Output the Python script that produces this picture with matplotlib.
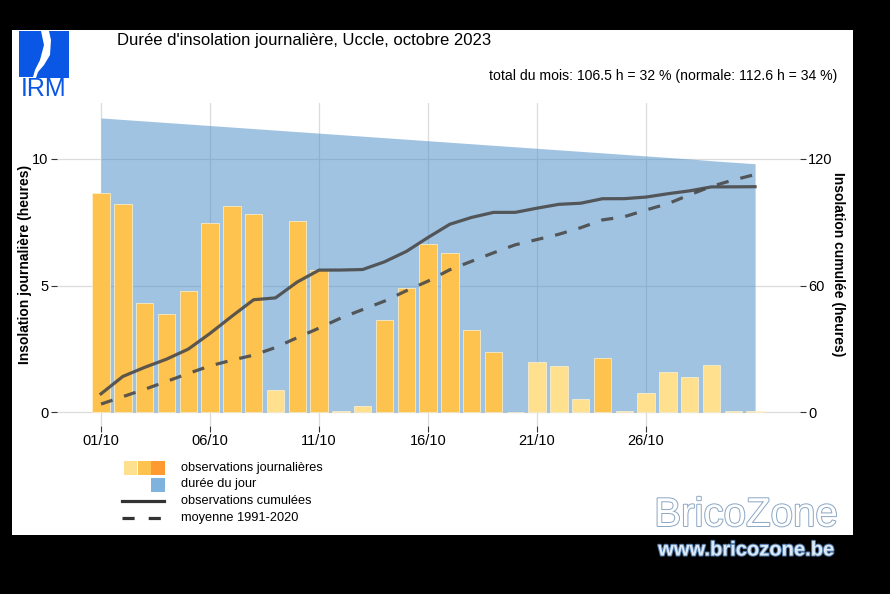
import matplotlib.pyplot as plt
import matplotlib.patheffects as pe
import numpy as np
from matplotlib.lines import Line2D
from matplotlib.patches import Polygon, Rectangle

plt.rcParams["font.family"] = ["Liberation Sans", "DejaVu Sans"]

# --- données ---
days = np.arange(1, 32)
sunshine = [8.67, 8.23, 4.30, 3.87, 4.77, 7.46, 8.13, 7.83, 0.87, 7.54,
            5.63, 0.03, 0.25, 3.65, 4.91, 6.64, 6.27, 3.24, 2.37, 0.02,
            1.99, 1.81, 0.53, 2.13, 0.03, 0.76, 1.58, 1.37, 1.87, 0.03, 0.06]
day_length = [11.62, 11.56, 11.50, 11.44, 11.38, 11.32, 11.26, 11.20, 11.14, 11.08,
              11.02, 10.96, 10.90, 10.84, 10.78, 10.72, 10.66, 10.60, 10.54, 10.48,
              10.42, 10.36, 10.30, 10.24, 10.18, 10.12, 10.06, 10.00, 9.93, 9.87, 9.81]
normal_cum = [3.8, 7.3, 10.8, 14.5, 18.3, 21.9, 24.6, 27.0, 30.6, 35.3,
              39.8, 44.6, 48.6, 52.6, 57.5, 62.1, 67.5, 71.5, 75.5, 79.3,
              81.8, 84.3, 87.4, 91.1, 92.6, 95.8, 98.8, 103.0, 107.0, 110.0, 112.6]
tick_days = [1, 6, 11, 16, 21, 26]
tick_labels = ["01/10", "06/10", "11/10", "16/10", "21/10", "26/10"]
total_month = 106.5
total_normal = 112.6

PALE, MID, DARK = "#fee08f", "#fec24f", "#fe9a30"
BLUE = "#4389c7"
LINE = "#4a4a4a"

W, H = 890, 594


def fx(x):
    return x / W


def fy(y):
    return 1 - y / H


fig = plt.figure(figsize=(W / 100, H / 100), dpi=100, facecolor="black")
fig.add_artist(Rectangle((fx(12), fy(535)), fx(853) - fx(12), fy(30) - fy(535),
                         transform=fig.transFigure, facecolor="white", edgecolor="none", zorder=0))

ax = fig.add_axes([fx(57), fy(426), fx(800) - fx(57), fy(103) - fy(426)])
ax.patch.set_alpha(0)
ax.set_xlim(-1.02, 33.06)
ax.set_ylim(-0.55, 12.21)
ax.set_axisbelow(True)
ax.grid(True, color="#dcdcdc", lw=0.9)
for s in ax.spines.values():
    s.set_visible(False)

ax.fill_between(days, 0, day_length, color=BLUE, alpha=0.5, lw=0, zorder=1)

frac = np.array(sunshine) / np.array(day_length)
colors = [PALE if f < 0.2 else (MID if f < 0.8 else DARK) for f in frac]
ax.bar(days, sunshine, width=0.8, color=colors, edgecolor="#fff3d0", lw=0.5, zorder=2)

ax.set_xticks(tick_days)
ax.set_xticklabels(tick_labels)
ax.set_yticks([0, 5, 10])
ax.tick_params(axis="both", length=4, width=0.8, color="#333333", labelsize=10.5,
               labelcolor="black", pad=2)
ax.set_ylabel("Insolation journalière (heures)", fontsize=10, fontweight="bold", va="center")
ax.yaxis.set_label_coords(-0.043, 0.5)

ax2 = ax.twinx()
ax2.set_ylim(-0.55 * 12, 12.21 * 12)
ax2.set_yticks([0, 60, 120])
for s in ax2.spines.values():
    s.set_visible(False)
ax2.tick_params(axis="y", length=4, width=0.8, color="#333333", labelsize=10.5, pad=2)
ax2.set_ylabel("Insolation cumulée (heures)", fontsize=10, fontweight="bold",
               rotation=270, va="center")
ax2.yaxis.set_label_coords(1.051, 0.5)

ax2.plot(days, np.cumsum(sunshine), color=LINE, lw=2.3, alpha=0.9, solid_joinstyle="round")
ax2.plot(days, normal_cum, color=LINE, lw=2.3, alpha=0.9, dashes=(3.8, 3.8))

# titres
fig.text(fx(117), fy(41), "Durée d'insolation journalière, Uccle, octobre 2023",
         fontsize=12, ha="left", va="center")
pct = 100 * total_month / sum(day_length)
pct_n = 100 * total_normal / sum(day_length)
fig.text(fx(837), fy(76),
         f"total du mois: {total_month} h = {pct:.0f} % (normale: {total_normal} h = {pct_n:.0f} %)",
         fontsize=10.1, ha="right", va="center")

# logo IRM (approximation)
logo_blue = "#0a57e6"
fig.add_artist(Polygon([(fx(19), fy(31)), (fx(41), fy(31)), (fx(44), fy(45)), (fx(40), fy(60)),
                        (fx(35), fy(70)), (fx(33), fy(77)), (fx(19), fy(77))],
                       transform=fig.transFigure, facecolor=logo_blue, edgecolor="none"))
fig.add_artist(Polygon([(fx(49), fy(31)), (fx(69), fy(31)), (fx(69), fy(78)), (fx(36), fy(78)),
                        (fx(38), fy(72)), (fx(44), fy(65)), (fx(50), fy(55)), (fx(51), fy(40))],
                       transform=fig.transFigure, facecolor=logo_blue, edgecolor="none"))
fig.text(fx(44), fy(89), "IRM", fontsize=18, color=logo_blue, ha="center", va="center")

# légende
def rect(x0, y0, x1, y1, c):
    fig.add_artist(Rectangle((fx(x0), fy(y1)), fx(x1) - fx(x0), fy(y0) - fy(y1),
                             transform=fig.transFigure, facecolor=c, edgecolor="none"))


rect(124, 461, 137.5, 475, PALE)
rect(137.5, 461, 151, 475, MID)
rect(151, 461, 164.5, 475, DARK)
rect(151, 478, 164.5, 492, "#80b2de")
fig.add_artist(Line2D([fx(122), fx(164)], [fy(500.5), fy(500.5)], transform=fig.transFigure,
                      color="#333333", lw=2.3))
fig.add_artist(Line2D([fx(122), fx(164)], [fy(518), fy(518)], transform=fig.transFigure,
                      color="#333333", lw=2.3, dashes=(3.8, 4.4)))
leg_labels = ["observations journalières", "durée du jour",
              "observations cumulées", "moyenne 1991-2020"]
for lab, yy in zip(leg_labels, [467.5, 484.5, 501.5, 518.5]):
    fig.text(fx(181), fy(yy), lab, fontsize=9.2, ha="left", va="center")

# filigrane
fig.text(fx(746), fy(515), "BricoZone", fontsize=29, color="white", ha="center", va="center",
         path_effects=[pe.Stroke(linewidth=1.4, foreground="#8aa6c4"), pe.Normal()])
fig.text(fx(746), fy(550), "www.bricozone.be", fontsize=14.5, fontweight="bold", color="#dbe9f6",
         ha="center", va="center",
         path_effects=[pe.Stroke(linewidth=1.5, foreground="#4f78a6"), pe.Normal()])

fig.savefig("out.png", dpi=100, facecolor="black")
